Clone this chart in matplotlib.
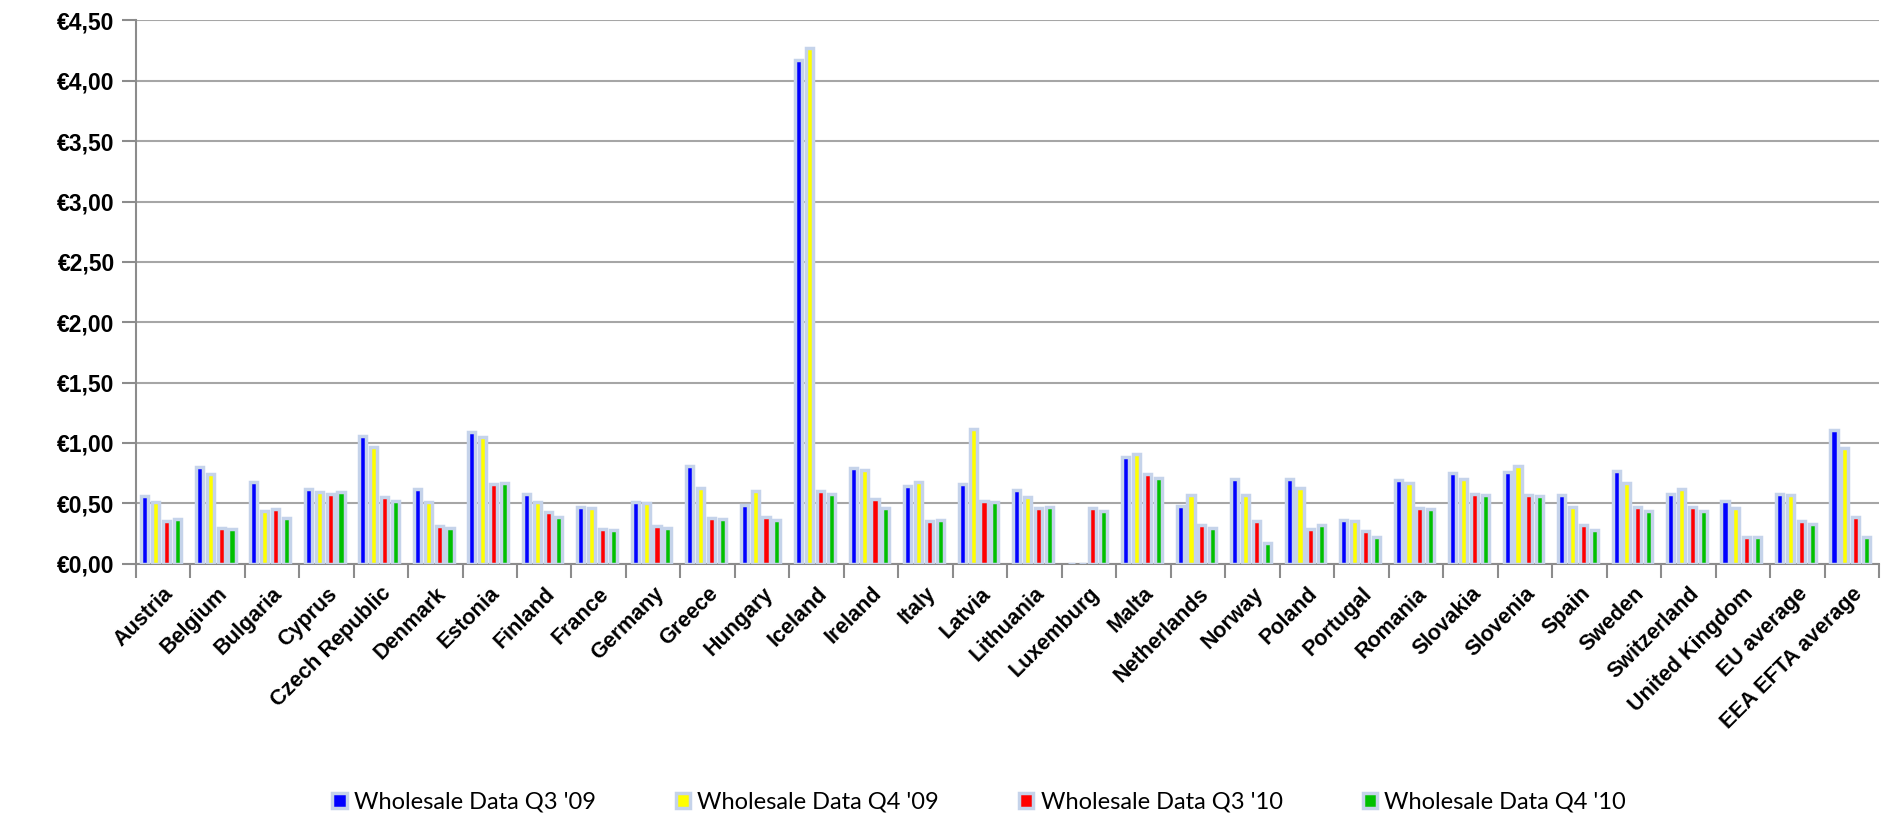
import matplotlib.pyplot as plt
import numpy as np
from matplotlib.ticker import FuncFormatter, MultipleLocator

# Categorias y valores (EUR por MB)
paises = ["Austria", "Belgium", "Bulgaria", "Cyprus", "Czech Republic", "Denmark",
          "Estonia", "Finland", "France", "Germany", "Greece", "Hungary", "Iceland",
          "Ireland", "Italy", "Latvia", "Lithuania", "Luxemburg", "Malta",
          "Netherlands", "Norway", "Poland", "Portugal", "Romania", "Slovakia",
          "Slovenia", "Spain", "Sweden", "Switzerland", "United Kingdom",
          "EU average", "EEA EFTA average"]

q3_09 = [0.56, 0.80, 0.68, 0.62, 1.06, 0.62, 1.09, 0.58, 0.47, 0.51, 0.81, 0.49,
         4.17, 0.79, 0.64, 0.66, 0.61, 0.0, 0.88, 0.48, 0.70, 0.70, 0.36, 0.69,
         0.75, 0.76, 0.57, 0.77, 0.58, 0.52, 0.58, 1.11]
q4_09 = [0.51, 0.74, 0.44, 0.59, 0.97, 0.51, 1.05, 0.51, 0.46, 0.50, 0.63, 0.60,
         4.27, 0.78, 0.68, 1.12, 0.55, 0.0, 0.91, 0.57, 0.57, 0.63, 0.35, 0.67,
         0.70, 0.81, 0.47, 0.67, 0.62, 0.46, 0.57, 0.96]
q3_10 = [0.35, 0.30, 0.45, 0.58, 0.55, 0.31, 0.66, 0.43, 0.29, 0.31, 0.38, 0.39,
         0.60, 0.54, 0.35, 0.52, 0.46, 0.46, 0.74, 0.32, 0.35, 0.29, 0.27, 0.46,
         0.58, 0.57, 0.32, 0.47, 0.47, 0.22, 0.35, 0.39]
q4_10 = [0.37, 0.29, 0.38, 0.59, 0.52, 0.30, 0.67, 0.39, 0.28, 0.30, 0.37, 0.36,
         0.58, 0.46, 0.36, 0.51, 0.47, 0.44, 0.71, 0.30, 0.17, 0.32, 0.22, 0.45,
         0.57, 0.56, 0.28, 0.44, 0.44, 0.22, 0.33, 0.22]

series = ["Wholesale Data Q3 '09", "Wholesale Data Q4 '09",
          "Wholesale Data Q3 '10", "Wholesale Data Q4 '10"]
colores = ["#0000ff", "#ffff00", "#ff0000", "#00c000"]

fig = plt.figure(figsize=(18.83, 8.17), dpi=100)
ax = fig.add_axes([0.072, 0.31, 0.926, 0.665])

x = np.arange(len(paises))
ancho = 0.13
for k, (vals, col, nombre) in enumerate(zip([q3_09, q4_09, q3_10, q4_10], colores, series)):
    ax.bar(x + (k - 1.5) * 0.2 - 0.03, vals, width=ancho, color=col,
           edgecolor="#c5d3ea", linewidth=2.5, label=nombre, zorder=3)

ax.set_xlim(-0.5, len(paises) - 0.5)
ax.set_ylim(0, 4.5)
ax.yaxis.set_major_locator(MultipleLocator(0.5))
ax.yaxis.set_major_formatter(FuncFormatter(lambda v, p: "€" + f"{v:.2f}".replace(".", ",")))
ax.grid(axis="y", color="#a6a6a6", linewidth=1.5, zorder=0)

for lado in ["top", "right"]:
    ax.spines[lado].set_visible(False)
for lado in ["left", "bottom"]:
    ax.spines[lado].set_color("#8c8c8c")
    ax.spines[lado].set_linewidth(1.5)

ax.set_xticks(x)
ax.set_xticklabels(paises, rotation=45, ha="right", va="top", rotation_mode="anchor",
                   fontsize=15.5, fontweight="bold", family="Liberation Sans")
ax.set_xticks(np.arange(-0.5, len(paises), 1), minor=True)
ax.tick_params(axis="x", which="major", length=0, pad=14)
ax.tick_params(axis="x", which="minor", length=10, width=1.5, color="#8c8c8c")
ax.tick_params(axis="y", length=10, width=1.5, color="#8c8c8c", pad=5)
for t in ax.get_yticklabels():
    t.set_fontsize(16.5)
    t.set_fontweight("bold")
    t.set_family("Liberation Sans")

fig.legend(loc="center", bbox_to_anchor=(0.52, 0.018), ncol=4, frameon=False,
           prop={"family": "Lato", "size": 17}, handlelength=0.6, handleheight=0.6,
           columnspacing=3.4, handletextpad=0.3)

plt.savefig("out.png", dpi=100)
